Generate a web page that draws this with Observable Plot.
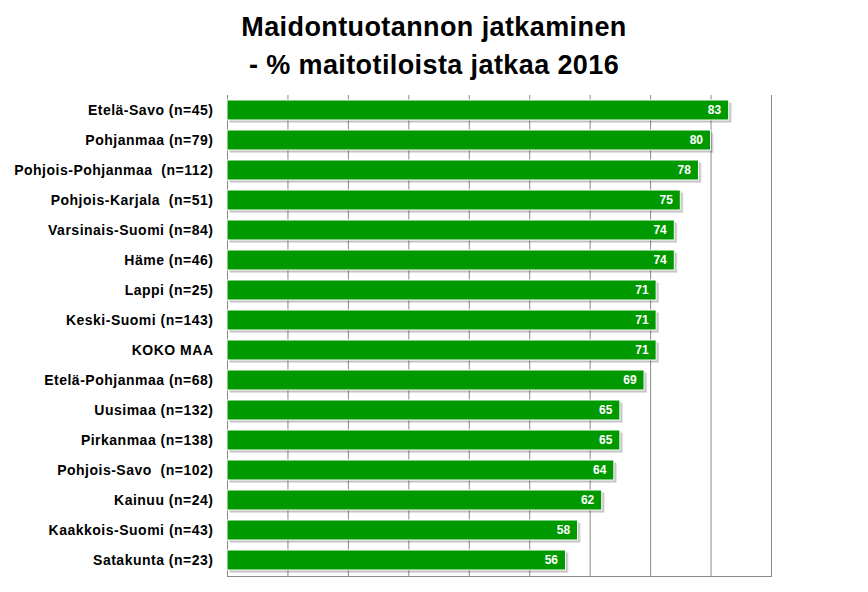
<!DOCTYPE html>
<html>
<head>
<meta charset="utf-8">
<script src="https://cdn.jsdelivr.net/npm/d3@7"></script>
<script src="https://cdn.jsdelivr.net/npm/@observablehq/plot@0.6"></script>
<style>
  body { margin: 0; background: #fff; font-family: "Liberation Sans", Arial, sans-serif; }
  #wrap { width: 868px; height: 592px; position: relative; }
  #title { position: absolute; left: 0; top: 8px; width: 868px; text-align: center;
           font-weight: bold; font-size: 27px; letter-spacing: 0.4px; line-height: 38px; color: #000; }
  #chart { position: absolute; left: 0; top: 80px; }
</style>
</head>
<body>
<div id="wrap">
  <div id="title">Maidontuotannon jatkaminen<br>- % maitotiloista jatkaa 2016</div>
  <div id="chart"></div>
</div>
<script>
const regions = [
  "Etelä-Savo (n=45)",
  "Pohjanmaa (n=79)",
  "Pohjois-Pohjanmaa  (n=112)",
  "Pohjois-Karjala  (n=51)",
  "Varsinais-Suomi (n=84)",
  "Häme (n=46)",
  "Lappi (n=25)",
  "Keski-Suomi (n=143)",
  "KOKO MAA",
  "Etelä-Pohjanmaa (n=68)",
  "Uusimaa (n=132)",
  "Pirkanmaa (n=138)",
  "Pohjois-Savo  (n=102)",
  "Kainuu (n=24)",
  "Kaakkois-Suomi (n=43)",
  "Satakunta (n=23)"
];
const values = [83, 80, 78, 75, 74, 74, 71, 71, 71, 69, 65, 65, 64, 62, 58, 56];
const gridTicks = [10, 20, 30, 40, 50, 60, 70, 80, 90];

const data = regions.map((r, i) => ({region: r, value: values[i]}));

const chart = Plot.plot({
  width: 868,
  height: 512,
  marginTop: 15,
  marginBottom: 16,
  marginLeft: 227,
  marginRight: 97,
  style: {fontFamily: "Liberation Sans, Arial, sans-serif", background: "transparent"},
  x: {domain: [0, 90], axis: null},
  y: {domain: regions, paddingInner: 0.33, paddingOuter: 0.165, label: null, tickSize: 0, tickPadding: 14},
  marks: [
    Plot.ruleX(gridTicks, {stroke: "#8a8a8a", strokeOpacity: 1}),
    Plot.ruleX([0], {stroke: "#8a8a8a", strokeOpacity: 1}),
    Plot.frame({anchor: "bottom", stroke: "#8a8a8a", strokeOpacity: 1}),
    Plot.barX(data, {x: "value", y: "region", fill: "#000", fillOpacity: 0.12, dx: 3, dy: 3}),
    Plot.barX(data, {x: "value", y: "region", fill: "#000", fillOpacity: 0.12, dx: 2, dy: 2}),
    Plot.barX(data, {x: "value", y: "region", fill: "#009900", stroke: "#fff", strokeWidth: 1}),
    Plot.text(data, {x: "value", y: "region", text: d => String(d.value), textAnchor: "end", dx: -8,
                     fill: "#fff", fontWeight: "bold", fontSize: 12}),
    Plot.axisY({tickSize: 0, tickPadding: 14, fontSize: 14, fontWeight: "bold", fill: "#000", label: null})
  ]
});
d3.select(chart).selectAll("g[aria-label='y-axis tick label'] text")
  .attr("font-weight", "bold").style("letter-spacing", "0.5px");
document.getElementById("chart").appendChild(chart);
</script>
</body>
</html>
